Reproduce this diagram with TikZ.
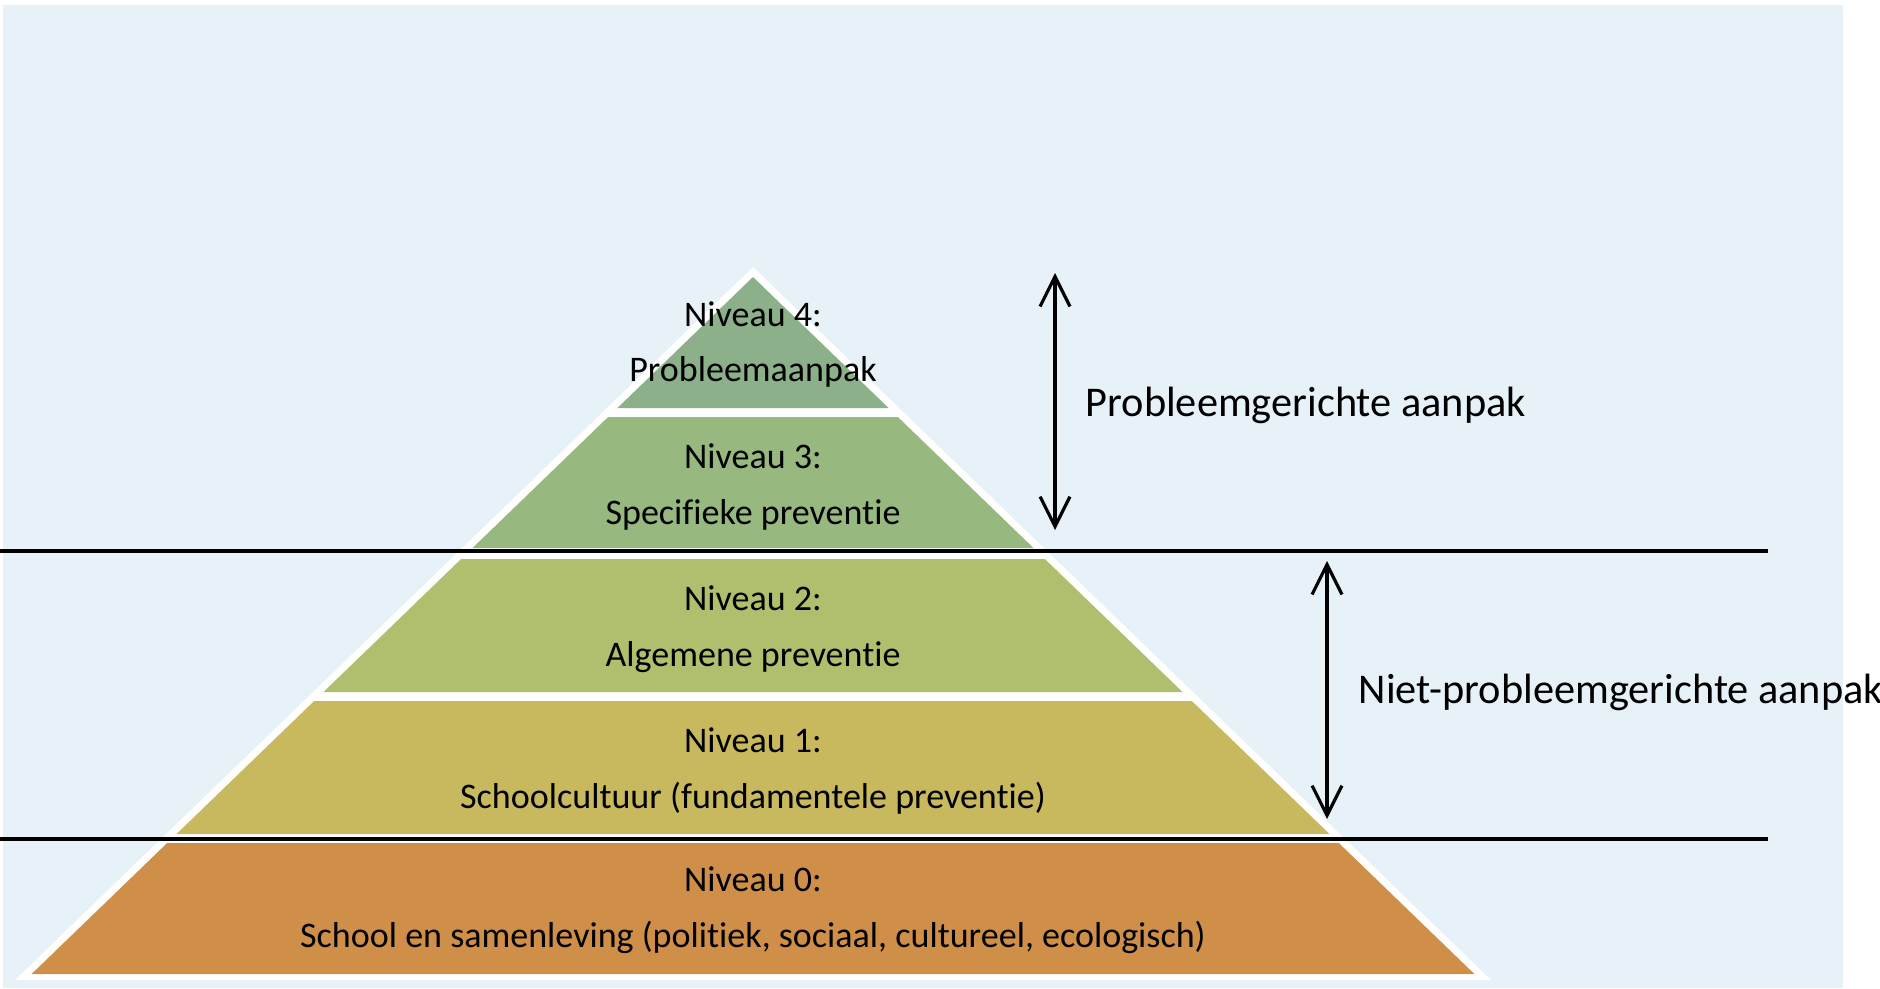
\documentclass[tikz,border=0pt]{standalone}
\usepackage{fontspec}
\setmainfont{Carlito}[Ligatures=NoCommon]
\usetikzlibrary{arrows.meta}

\definecolor{bgblue}{HTML}{E7F2F8}
\definecolor{pyr4}{HTML}{8CB08A}
\definecolor{pyr3}{HTML}{97B97F}
\definecolor{pyr2}{HTML}{AEBF6E}
\definecolor{pyr1}{HTML}{C8B95E}
\definecolor{pyr0}{HTML}{D08F48}

\tikzset{
  leveltext/.style={align=center,inner sep=0pt,font=\fontsize{10.25}{15.9}\selectfont},
  sidelabel/.style={anchor=west,inner sep=0pt,font=\fontsize{12.05}{14}\selectfont},
  spanarrow/.style={{Straight Barb[length=8.5pt,width=8.5pt]}-{Straight Barb[length=8.5pt,width=8.5pt]},line width=0.9pt},
  divider/.style={line width=1.2pt}
}

\begin{document}
\begin{tikzpicture}[x=0.1mm,y=-0.1mm]
  \useasboundingbox (0,0) rectangle (1880,988);
  % Panel and white pyramid outline.
  \fill[bgblue] (3,5) rectangle (1843,988);
  \fill[white] (753,267) -- ({753-1.035*713},980) -- ({753+1.035*713},980) -- cycle;

  % The five levels, apex at (753,277).
  \foreach \ytop/\ybot/\col in {277/408/pyr4, 417/548/pyr3, 559/692/pyr2,
      701/834/pyr1, 843/974/pyr0} {
    \fill[\col] ({753-1.035*(\ytop-277)},\ytop) -- ({753+1.035*(\ytop-277)},\ytop)
      -- ({753+1.035*(\ybot-277)},\ybot) -- ({753-1.035*(\ybot-277)},\ybot) -- cycle;
  }

  \node[leveltext] (niveau4) at (753,344.5) {Niveau 4:\\Probleemaanpak};
  \node[leveltext] (niveau3) at (753,487) {Niveau 3:\\Specifieke preventie};
  \node[leveltext] (niveau2) at (753,629) {Niveau 2:\\Algemene preventie};
  \node[leveltext] (niveau1) at (753,771) {Niveau 1:\\Schoolcultuur (fundamentele preventie)};
  \node[leveltext] (niveau0) at (753,910.5) {Niveau 0:\\School en samenleving (politiek, sociaal, cultureel, ecologisch)};

  % Dividing lines between the approaches.
  \coordinate (divAwest) at (0,551);
  \coordinate (divAeast) at (1768,551);
  \coordinate (divBwest) at (0,839);
  \coordinate (divBeast) at (1768,839);
  \draw[divider] (divAwest) -- (divAeast);
  \draw[divider] (divBwest) -- (divBeast);

  % Span arrows and their labels.
  \coordinate (probTop) at (1055,273);
  \coordinate (probBot) at (1055,530);
  \coordinate (nietTop) at (1327,561);
  \coordinate (nietBot) at (1327,819);
  \draw[spanarrow] (probTop) -- (probBot);
  \draw[spanarrow] (nietTop) -- (nietBot);
  \node[sidelabel] (probleem) at (1085,405) {Probleemgerichte aanpak};
  \node[sidelabel] (nietprobleem) at (1358,692) {Niet-probleemgerichte aanpak};
\end{tikzpicture}
\end{document}
